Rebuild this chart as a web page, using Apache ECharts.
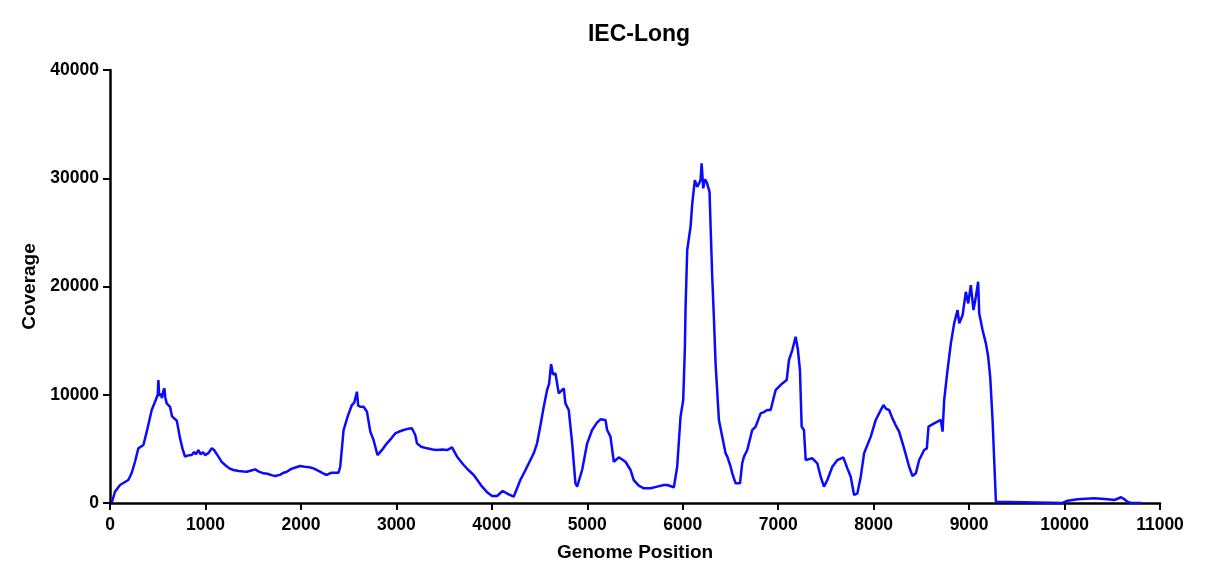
<!DOCTYPE html>
<html>
<head>
<meta charset="utf-8">
<script src="https://cdn.jsdelivr.net/npm/echarts@6/dist/echarts.min.js"></script>
<style>html,body{margin:0;padding:0;background:#fff}#c{width:1209px;height:572px}</style>
</head>
<body>
<div id="c"></div>
<script>
const chartTitle = 'IEC-Long';
const xAxisName = 'Genome Position';
const yAxisName = 'Coverage';
const positions = [
18,52,105,192,227,262,297,350,385,437,472,500,507,515,530,545,560,570,580,594,629,650,664,700,717,734,760,786,820,856,880,900,926,950,975,996,1030,1066,1090,1136,1170,1206,1250,1293,1350,1400,1433,1480,1521,1560,1608,1650,1700,1730,1780,1820,1853,1900,1950,1992,2040,2090,2132,2200,2240,2272,2320,2394,2412,2447,2490,2534,2560,2587,2600,2622,2657,2692,2727,2761,2802,2850,2901,2950,2989,3030,3076,3120,3163,3198,3216,3260,3321,3380,3426,3480,3531,3583,3636,3705,3760,3810,3850,3898,3950,4003,4055,4114,4177,4229,4299,4350,4404,4439,4474,4510,4544,4579,4600,4621,4640,4667,4701,4720,4754,4771,4806,4842,4876,4894,4946,4999,5051,5100,5138,5191,5208,5243,5278,5330,5400,5453,5487,5540,5592,5663,5732,5803,5837,5907,5942,5977,6005,6022,6030,6047,6082,6100,6127,6152,6175,6187,6198,6215,6230,6250,6281,6292,6309,6327,6344,6379,6414,6449,6467,6502,6519,6554,6572,6600,6623,6642,6676,6711,6728,6764,6816,6850,6886,6921,6938,6973,7043,7089,7113,7148,7183,7207,7228,7246,7270,7288,7358,7410,7445,7480,7515,7567,7620,7682,7725,7760,7795,7830,7865,7900,7970,8022,8057,8103,8130,8162,8197,8230,8267,8319,8372,8407,8442,8477,8529,8557,8575,8634,8704,8722,8739,8774,8809,8844,8879,8897,8932,8966,8991,9018,9046,9071,9095,9106,9141,9176,9200,9221,9246,9263,9281,9300,9980,10032,10137,10311,10452,10522,10592,10627,10662,10700,10801
];
const coverage = [
0,1040,1660,2120,2770,3810,5050,5360,6590,8590,9360,10000,11360,9900,10100,9700,10400,10590,9700,9200,8890,8000,7820,7600,7510,5970,5000,4280,4400,4430,4700,4500,4890,4500,4700,4430,4600,5050,4900,4280,3800,3510,3200,3050,2950,2900,2890,3000,3110,2900,2740,2700,2550,2490,2600,2800,2890,3150,3300,3420,3350,3300,3200,2900,2700,2590,2800,2800,3350,6740,8000,9050,9300,10280,9000,8890,8890,8430,6590,5820,4430,4900,5510,6000,6440,6600,6740,6850,6900,6280,5510,5200,5050,4950,4890,4950,4890,5140,4280,3510,3000,2590,2100,1510,1000,650,650,1110,800,580,2120,3000,3970,4590,5510,7200,8890,10430,11000,12840,11900,11970,10130,10000,10590,9200,8590,5510,1820,1510,3050,5510,6740,7400,7730,7670,6740,6130,3810,4220,3810,3050,2120,1600,1360,1360,1510,1660,1660,1450,3350,7970,9510,14130,18130,23370,25520,27680,29830,29210,29600,29830,31370,29060,29900,29670,28750,25520,20900,17000,12900,7670,6130,4590,4280,3350,2740,1820,1660,1820,3670,4280,4890,6130,6740,7050,8280,8400,8590,8590,8590,10430,11050,11360,13210,14130,15360,14130,12280,7050,6740,3970,4130,3670,2430,1510,2120,3350,3970,4220,3200,2430,740,890,2430,4590,6130,7670,8280,9050,8700,8590,7820,7200,6590,5050,3350,2490,2740,3970,4890,5050,7050,7360,7670,6590,9510,12280,14750,16600,17820,16600,17360,19510,18440,20130,17820,19050,20440,17520,15980,14750,13510,11660,7670,3970,120,0,0,210,340,430,340,280,530,340,90,0,0
];
const xTicks = {min: 0, max: 11000, interval: 1000};
const yTicks = {min: 0, max: 40000, interval: 10000};

const data = positions.map((p, i) => [p, coverage[i]]);
const font = 'Liberation Sans, Arial, sans-serif';
const chart = echarts.init(document.getElementById('c'), null, {renderer: 'canvas'});
chart.setOption({
  animation: false,
  backgroundColor: '#ffffff',
  title: {
    text: chartTitle, left: 634, top: 18, textAlign: 'center',
    textStyle: {fontFamily: font, fontWeight: 'bold', fontSize: 23, color: '#000'}
  },
  grid: {left: 110, right: 49, top: 70, bottom: 69, containLabel: false},
  xAxis: {
    type: 'value', min: xTicks.min, max: xTicks.max, interval: xTicks.interval,
    name: xAxisName, nameLocation: 'middle', nameGap: 40,
    nameTextStyle: {fontFamily: font, fontWeight: 'bold', fontSize: 19, color: '#000'},
    axisLine: {show: true, onZero: false, lineStyle: {color: '#000', width: 2.5}},
    axisTick: {show: true, length: 7, lineStyle: {color: '#000', width: 2}},
    axisLabel: {fontFamily: font, fontWeight: 'bold', fontSize: 17.5, color: '#000', margin: 13,
      formatter: v => String(v)},
    splitLine: {show: false}
  },
  yAxis: {
    type: 'value', min: yTicks.min, max: yTicks.max, interval: yTicks.interval,
    name: yAxisName, nameLocation: 'middle', nameGap: 63,
    nameTextStyle: {fontFamily: font, fontWeight: 'bold', fontSize: 19, color: '#000'},
    axisLine: {show: true, lineStyle: {color: '#000', width: 2.5}},
    axisTick: {show: true, length: 7, lineStyle: {color: '#000', width: 2}},
    axisLabel: {fontFamily: font, fontWeight: 'bold', fontSize: 17.5, color: '#000', margin: 11,
      formatter: v => String(v)},
    splitLine: {show: false}
  },
  series: [{
    type: 'line', data: data, showSymbol: false, symbol: 'none',
    lineStyle: {color: '#0a0aff', width: 2.5},
    z: 1
  }]
});
</script>
</body>
</html>
